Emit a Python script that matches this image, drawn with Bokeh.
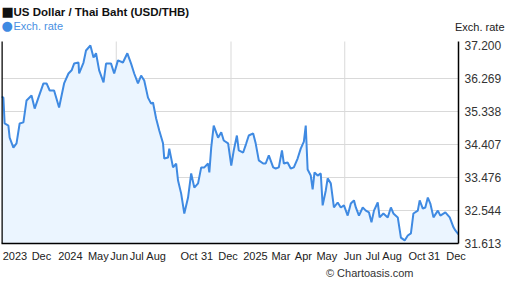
from bokeh.plotting import figure
from bokeh.models import (ColumnDataSource, FixedTicker, Label, Range1d, Title)
from bokeh.embed import file_html
from bokeh.resources import INLINE

# ---- data ----
days = [0, 3, 5, 11, 13, 19, 24, 29, 35, 40, 48, 53, 59, 67, 72, 77, 84, 92, 100,
        107, 112, 116, 123, 124, 131, 135, 142, 147, 151, 156, 163, 167, 175, 180,
        186, 194, 201, 207, 212, 218, 223, 228, 234, 239, 242, 247, 252, 258, 260,
        266, 268, 274, 279, 282, 287, 292, 298, 303, 308, 314, 319, 324, 330, 332,
        335, 339, 346, 351, 355, 362, 367, 371, 376, 379, 386, 391, 395, 402, 406,
        411, 418, 422, 427, 434, 438, 443, 448, 451, 457, 462, 467, 473, 478, 483,
        486, 489, 494, 497, 500, 505, 510, 513, 518, 521, 526, 531, 537, 542, 547,
        553, 558, 563, 566, 571, 577, 582, 587, 591, 595, 601, 604, 610, 617, 622,
        626, 633, 638, 644, 649, 654, 658, 665, 668, 673, 677, 681, 685, 690, 697,
        701, 709, 716, 722, 725, 730]
rate = [35.76, 35.73, 35.00, 34.94, 34.60, 34.32, 34.44, 35.00, 35.03, 35.65, 35.79,
        35.42, 35.73, 36.13, 36.13, 35.93, 35.93, 35.45, 36.13, 36.41, 36.50, 36.69,
        36.72, 36.41, 36.72, 37.06, 37.20, 36.86, 36.98, 36.50, 36.16, 36.69, 36.69,
        36.41, 36.78, 36.72, 36.98, 36.69, 36.41, 36.13, 36.35, 36.21, 35.73, 35.56,
        35.59, 35.14, 34.80, 34.44, 34.01, 34.04, 34.29, 33.76, 33.87, 33.39, 33.02,
        32.46, 32.91, 33.59, 33.19, 33.31, 33.76, 33.76, 33.87, 33.62, 34.32, 34.94,
        34.60, 34.75, 34.52, 34.44, 33.81, 34.24, 34.66, 34.24, 34.18, 34.44, 34.66,
        34.72, 34.44, 33.96, 33.87, 33.87, 34.10, 33.76, 33.73, 33.76, 34.24, 33.87,
        33.90, 33.73, 33.76, 34.01, 34.29, 34.49, 34.94, 33.70, 33.53, 33.14, 33.62,
        33.53, 33.59, 32.69, 33.11, 33.45, 33.31, 32.63, 32.77, 32.63, 32.69, 32.40,
        32.74, 32.83, 32.63, 32.40, 32.63, 32.54, 32.49, 32.21, 32.54, 32.77, 32.35,
        32.46, 32.35, 32.63, 32.46, 32.35, 31.78, 31.70, 31.84, 31.90, 32.46, 32.54,
        32.83, 32.60, 32.63, 32.91, 32.74, 32.35, 32.54, 32.40, 32.49, 32.35, 32.07,
        31.98, 31.87]

y_ticks = [31.613, 32.544, 33.476, 34.407, 35.338, 36.269, 37.200]
y_grid = [32.544, 33.476, 34.407, 35.338, 36.269]
x_tick_days = [21.5, 63.8, 110, 154.6, 188, 216, 247, 299.7, 328.3, 361.8, 405.6,
               446.3, 482.2, 519.6, 561, 593, 624, 663.9, 691, 726]
x_tick_labels = ["2023", "Dec", "2024", "May", "Jun", "Jul", "Aug", "Oct", "31", "Dec",
                 "2025", "Mar", "Apr", "May", "Jun", "Jul", "Aug", "Oct", "31", "Dec"]
x_grid_days = [183.3, 366.6, 548.3]

title_text = "US Dollar / Thai Baht (USD/THB)"
legend_text = "Exch. rate"
axis_title = "Exch. rate"
credit = "\u00a9 Chartoasis.com"

LINE = "#3f8ae2"
FILL = "#ebf5ff"
FONT = "Liberation Sans"
GRID = "#d9d9d9"

X0, X1 = 0, 730
Y_BOT, Y_PLOT_TOP, Y_CANVAS_TOP = 31.613, 37.313, 38.470

src = ColumnDataSource(dict(x=days, y=rate))

p = figure(width=507, height=288, frame_width=457, frame_height=243,
           output_backend="svg", toolbar_location=None,
           x_range=Range1d(X0, X1), y_range=Range1d(Y_BOT, Y_CANVAS_TOP),
           y_axis_location="right", tools="")
p.min_border_left = 1
p.min_border_right = 49
p.min_border_top = 0
p.min_border_bottom = 45
p.outline_line_color = None
p.background_fill_color = "white"
p.border_fill_color = "white"

# vertical grid lines (limited to the plotting area)
p.segment(x0=x_grid_days, y0=[Y_BOT] * len(x_grid_days), x1=x_grid_days,
          y1=[Y_PLOT_TOP] * len(x_grid_days), line_color=GRID, line_width=1)

p.varea(x="x", y1=31.0, y2="y", source=src, fill_color=FILL)
p.line(x="x", y="y", source=src, line_color=LINE, line_width=2)

# left border of plot area
p.segment(x0=[X0], y0=[Y_BOT], x1=[X0], y1=[Y_PLOT_TOP], line_color="black", line_width=2.5)

# axes
xa = p.xaxis[0]
xa.ticker = FixedTicker(ticks=x_tick_days)
xa.major_label_overrides = {t: l for t, l in zip(x_tick_days, x_tick_labels)}
xa.major_tick_line_color = None
xa.major_tick_out = 0
xa.major_tick_in = 0
xa.minor_tick_line_color = None
xa.axis_line_color = "black"
xa.axis_line_width = 1.5
xa.major_label_standoff = 6
xa.major_label_text_font = FONT
xa.major_label_text_font_size = "11px"
xa.major_label_text_color = "#222222"

ya = p.yaxis[0]
ya.ticker = FixedTicker(ticks=y_ticks)
ya.major_label_overrides = {t: f"{t:.3f}" for t in y_ticks}
ya.bounds = (Y_BOT, Y_PLOT_TOP)
ya.major_tick_line_color = None
ya.major_tick_out = 0
ya.major_tick_in = 0
ya.minor_tick_line_color = None
ya.axis_line_color = "black"
ya.axis_line_width = 1.5
ya.major_label_standoff = 6
ya.major_label_text_font = FONT
ya.major_label_text_font_size = "12px"
ya.major_label_text_color = "#333333"

p.xgrid.grid_line_color = None
p.ygrid.ticker = FixedTicker(ticks=y_grid)
p.ygrid.grid_line_color = GRID

# texts (screen units relative to the frame: x from left, y from bottom)
p.add_layout(Label(x=0, y=232, x_units="screen", y_units="screen", text="\u25a0",
                   text_font="DejaVu Sans", text_font_size="13px", text_color="#111111",
                   text_baseline="middle"))
p.add_layout(Label(x=12, y=232, x_units="screen", y_units="screen", text=title_text,
                   text_font=FONT, text_font_size="11.5px", text_font_style="bold",
                   text_color="#111111", text_baseline="middle"))
p.add_layout(Label(x=0, y=218, x_units="screen", y_units="screen", text="\u25cf",
                   text_font="DejaVu Sans", text_font_size="13px", text_color=LINE,
                   text_baseline="middle"))
p.add_layout(Label(x=12, y=218, x_units="screen", y_units="screen", text=legend_text,
                   text_font=FONT, text_font_size="11px", text_color="#4a90e2",
                   text_baseline="middle"))
# axis title, placed in the right side panel so it is not clipped by the frame
p.add_layout(Label(x=0, y=217, x_units="screen", y_units="screen", text=axis_title,
                   text_font=FONT, text_font_size="11px", text_color="#222222",
                   text_baseline="middle", text_align="right"), "right")

p.add_layout(Title(text=credit, align="right", offset=45, text_font=FONT,
                   text_font_size="11px", text_font_style="normal",
                   text_color="#333333", standoff=0), "below")

open("out.html", "w").write(file_html(p, INLINE))
